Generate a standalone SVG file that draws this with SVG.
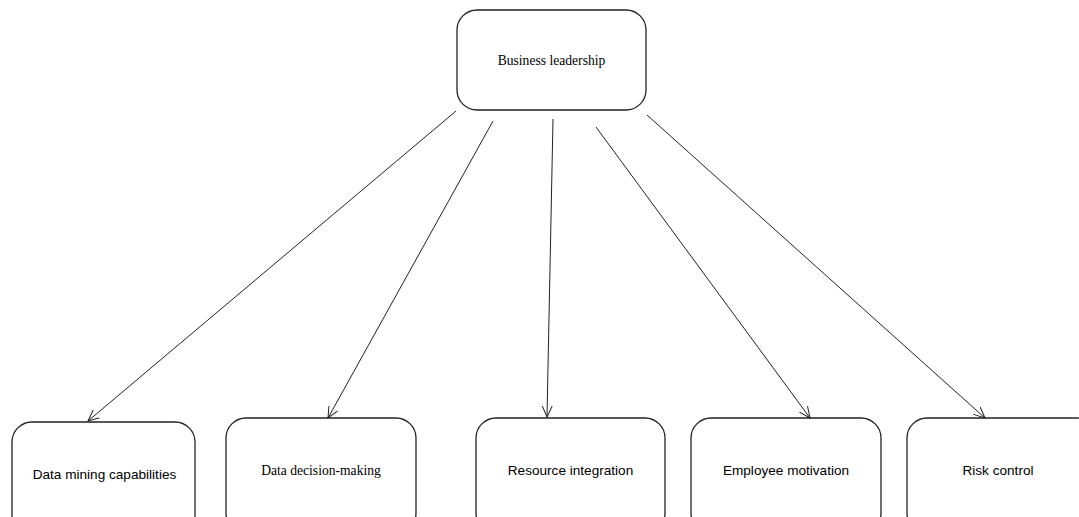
<svg xmlns="http://www.w3.org/2000/svg" width="1079" height="517" viewBox="0 0 1079 517">
<style>
.box{fill:#fff;stroke:#222;stroke-width:1.3}
.serif{font-family:"Liberation Serif",serif;font-size:13.6px;fill:#000;text-anchor:middle}
.sans{font-family:"Liberation Sans",sans-serif;font-size:13.6px;fill:#000;text-anchor:middle}
.conn{stroke:#222;stroke-width:1;fill:none;marker-end:url(#arr)}
</style>
<defs>
<marker id="arr" viewBox="0 0 12 12" refX="11" refY="6" markerWidth="12" markerHeight="12" markerUnits="userSpaceOnUse" orient="auto">
<path d="M0,1 L11,6 L0,11" fill="none" stroke="#222" stroke-width="1"/>
</marker>
</defs>
<rect width="1079" height="517" fill="#fff"/>
<g id="n-top"><rect class="box" x="457" y="10" width="189" height="100" rx="20"/><text class="serif" x="551.5" y="65">Business leadership</text></g>
<g id="n1"><rect class="box" x="12" y="422" width="183" height="115" rx="20"/><text class="sans" x="104.5" y="479">Data mining capabilities</text></g>
<g id="n2"><rect class="box" x="226" y="418" width="190" height="115" rx="20"/><text class="serif" x="321" y="475">Data decision-making</text></g>
<g id="n3"><rect class="box" x="476" y="418" width="189" height="115" rx="20"/><text class="sans" x="570.5" y="475">Resource integration</text></g>
<g id="n4"><rect class="box" x="691" y="418" width="190" height="115" rx="20"/><text class="sans" x="786" y="475">Employee motivation</text></g>
<g id="n5"><rect class="box" x="907" y="418" width="190" height="115" rx="20"/><text class="sans" x="998" y="475">Risk control</text></g>
<g id="connectors">
<line class="conn" x1="456" y1="111" x2="88" y2="421"/>
<line class="conn" x1="493" y1="121" x2="328" y2="418"/>
<line class="conn" x1="553" y1="119" x2="547" y2="417"/>
<line class="conn" x1="596" y1="127" x2="810" y2="418"/>
<line class="conn" x1="647" y1="115" x2="985" y2="418"/>
</g>
</svg>
